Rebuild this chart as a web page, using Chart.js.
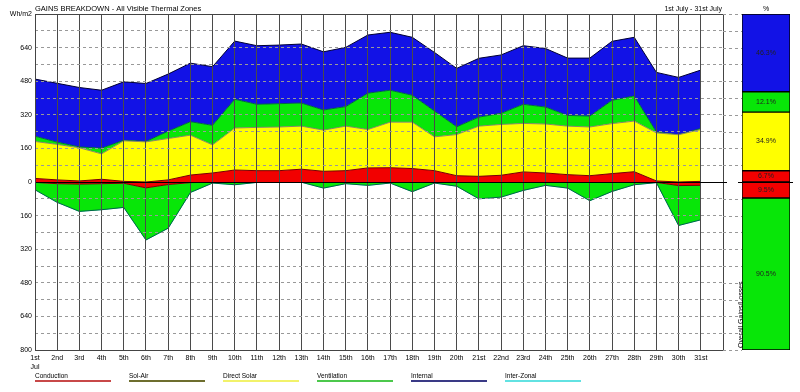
<!DOCTYPE html>
<html>
<head>
<meta charset="utf-8">
<script src="https://cdn.jsdelivr.net/npm/chart.js@4.4.0/dist/chart.umd.min.js"></script>
<style>
  html, body { margin: 0; padding: 0; background: #fff; }
  #wrap { position: relative; width: 800px; height: 392px; }
  #wrap canvas { position: absolute; left: 0; top: 0; }
</style>
</head>
<body>
<div id="wrap">
  <canvas id="main" width="800" height="392"></canvas>
  <canvas id="share" width="800" height="392"></canvas>
</div>
<script>
const dayLabels = ['1st','2nd','3rd','4th','5th','6th','7th','8th','9th','10th','11th','12th','13th','14th','15th',
  '16th','17th','18th','19th','20th','21st','22nd','23rd','24th','25th','26th','27th','28th','29th','30th','31st'];

// daily gains (Wh/m2)
const condGain  = [17,10,5,13,3,0,10,33,43,57,54,54,61,51,54,67,68,64,54,30,27,32,48,43,35,30,40,49,5,0,3];
const solarGain = [176,169,158,121,193,191,197,190,134,200,206,208,205,196,212,183,217,221,161,196,239,242,231,233,231,232,238,241,229,225,247];
const ventGain  = [25,11,4,27,3,2,35,64,93,137,110,111,110,96,93,173,152,128,123,37,43,53,91,81,51,52,111,120,4,0,5];
const intGain   = [272,280,283,276,278,276,272,279,279,277,279,279,281,277,282,277,276,276,279,278,280,278,279,279,273,276,281,279,284,273,278];
const solAir    = [0,0,0,0,0,0,0,0,0,0,0,0,0,0,0,0,0,0,0,0,0,0,0,0,0,0,0,0,0,0,0];
// daily losses (Wh/m2)
const condLoss  = [-2,-8,-10,-8,-6,-28,-12,-3,-1,0,0,0,0,0,0,0,0,0,0,0,0,0,0,0,0,0,0,0,-2,-17,-16];
const ventLoss  = [-35,-89,-130,-124,-115,-248,-208,-47,-4,-13,-2,-1,-1,-29,-8,-16,-5,-46,-5,-20,-80,-72,-40,-16,-29,-89,-45,-13,-1,-190,-164];
const interZonal = [0,0,0,0,0,0,0,0,0,0,0,0,0,0,0,0,0,0,0,0,0,0,0,0,0,0,0,0,0,0,0];

// overall share (%)
const gainShareNames = ['Conduction','Direct Solar','Ventilation','Internal'];
const gainShare = [6.7, 34.9, 12.1, 46.3];
const lossShareNames = ['Conduction','Ventilation'];
const lossShare = [-9.5, -90.5];

const legendNames  = ['Conduction','Sol-Air','Direct Solar','Ventilation','Internal','Inter-Zonal'];
const legendColors = ['#c84848','#6e6e2e','#f2f26a','#4cc84c','#3a3a86','#62e2e2'];

const RED = '#f20000', YELLOW = '#ffff00', GREEN = '#08e608', BLUE = '#1212e6';
const FONT = 'Liberation Sans, Arial, sans-serif';

function area(label, data, bg, border, stack, fill) {
  return { label, data, backgroundColor: bg, borderColor: border, borderWidth: 1,
           stack, fill, pointRadius: 0, tension: 0 };
}

const extras = {
  id: 'extras',
  afterDraw(chart) {
    const ctx = chart.ctx, a = chart.chartArea, y = chart.scales.y;
    ctx.save();
    // frame
    ctx.strokeStyle = '#444';
    ctx.lineWidth = 1;
    ctx.strokeRect(a.left + 0.5, a.top + 0.5, a.right - a.left, a.bottom - a.top);
    // gridlines running on to the share bar
    ctx.strokeStyle = '#999';
    ctx.setLineDash([3, 3]);
    for (let v = -800; v <= 800; v += 80) {
      if (v === 0) continue;
      const py = Math.round(y.getPixelForValue(v)) + 0.5;
      ctx.beginPath(); ctx.moveTo(a.right, py); ctx.lineTo(742, py); ctx.stroke();
    }
    ctx.setLineDash([]);
    ctx.strokeStyle = '#000';
    const z = Math.round(y.getPixelForValue(0)) + 0.5;
    ctx.beginPath(); ctx.moveTo(a.right, z); ctx.lineTo(727, z); ctx.stroke();
    // titles
    ctx.fillStyle = '#000';
    ctx.font = '7.5px ' + FONT;
    ctx.textBaseline = 'middle';
    ctx.textAlign = 'left';
    ctx.fillText('GAINS BREAKDOWN - All Visible Thermal Zones', 35, 9);
    ctx.font = '7px ' + FONT;
    ctx.textAlign = 'right';
    ctx.fillText('1st July - 31st July', 722, 9);
    // legend
    ctx.textAlign = 'left';
    ctx.font = '6.5px ' + FONT;
    legendNames.forEach((name, i) => {
      const x0 = 35 + i * 94;
      ctx.fillStyle = '#000';
      ctx.fillText(name, x0, 376);
      ctx.strokeStyle = legendColors[i];
      ctx.lineWidth = 2;
      ctx.beginPath(); ctx.moveTo(x0, 381); ctx.lineTo(x0 + 76, 381); ctx.stroke();
    });
    ctx.restore();
  }
};

new Chart(document.getElementById('main'), {
  type: 'line',
  data: {
    labels: dayLabels.concat(['']),
    datasets: [
      area('Conduction', condGain, RED, '#700', 'gain', 'origin'),
      area('Direct Solar', solarGain, YELLOW, '#886', 'gain', '-1'),
      area('Ventilation', ventGain, GREEN, '#064', 'gain', '-1'),
      area('Internal', intGain, BLUE, '#003', 'gain', '-1'),
      area('Sol-Air', solAir, 'rgba(0,0,0,0)', '#6e6e2e', 'loss', false),
      area('Conduction', condLoss, RED, '#700', 'loss', 'origin'),
      area('Ventilation', ventLoss, GREEN, '#064', 'loss', '-1'),
      area('Inter-Zonal', interZonal, 'rgba(0,0,0,0)', '#62e2e2', 'loss', false)
    ]
  },
  options: {
    responsive: false,
    animation: false,
    layout: { padding: { top: 14, right: 77, left: 0, bottom: 0 } },
    plugins: { legend: { display: false }, tooltip: { enabled: false } },
    scales: {
      x: {
        type: 'category',
        offset: false,
        grid: { color: '#4a4a4a', drawTicks: false, z: 1 },
        border: { display: false },
        ticks: {
          autoSkip: false, maxRotation: 0, padding: 3, color: '#000',
          font: { family: FONT, size: 7, lineHeight: 1.35 },
          callback: (v, i) => i === 0 ? [dayLabels[0], 'Jul'] : (dayLabels[i] || '')
        },
        afterFit: s => { s.height = 42; }
      },
      y: {
        stacked: true,
        min: -800, max: 800,
        grid: { color: c => c.tick && c.tick.value === 0 ? '#000' : '#999', drawTicks: false, z: 1 },
        border: { display: false, dash: c => c.tick && c.tick.value === 0 ? [] : [3, 3] },
        ticks: {
          stepSize: 80, padding: 3, color: '#000',
          font: { family: FONT, size: 7 },
          callback: v => v === 800 ? 'Wh/m2' : (v % 160 === 0 ? String(Math.abs(v)) : '')
        },
        afterFit: s => { s.width = 35; }
      }
    }
  },
  plugins: [extras]
});

const shareText = {
  id: 'shareText',
  afterDatasetsDraw(chart) {
    const ctx = chart.ctx, a = chart.chartArea, y = chart.scales.y;
    ctx.save();
    ctx.font = '7px ' + FONT;
    ctx.textAlign = 'center';
    ctx.textBaseline = 'middle';
    ctx.fillStyle = '#222';
    chart.data.datasets.forEach((ds, i) => {
      const bar = chart.getDatasetMeta(i).data[0];
      ctx.fillText(Math.abs(ds.data[0]).toFixed(1) + '%', bar.x, (bar.y + bar.base) / 2);
    });
    const z = Math.round(y.getPixelForValue(0)) + 0.5;
    ctx.strokeStyle = '#000';
    ctx.lineWidth = 1;
    ctx.beginPath(); ctx.moveTo(a.left - 4, z); ctx.lineTo(a.right + 3, z); ctx.stroke();
    ctx.fillStyle = '#000';
    ctx.font = '7px ' + FONT;
    ctx.fillText('%', (a.left + a.right) / 2, 9);
    ctx.translate(a.left - 1, a.bottom - 2);
    ctx.rotate(-Math.PI / 2);
    ctx.textAlign = 'left';
    ctx.font = '7px ' + FONT;
    ctx.fillText('Overall Gains/Losses', 0, 0);
    ctx.restore();
  }
};

const shareColors = { 'Conduction': RED, 'Direct Solar': YELLOW, 'Ventilation': GREEN, 'Internal': BLUE };
const shareSets = [];
gainShareNames.forEach((n, i) => shareSets.push({ label: n, data: [gainShare[i]], backgroundColor: shareColors[n], stack: 's' }));
lossShareNames.forEach((n, i) => shareSets.push({ label: n, data: [lossShare[i]], backgroundColor: shareColors[n], stack: 's' }));

new Chart(document.getElementById('share'), {
  type: 'bar',
  data: { labels: ['%'], datasets: shareSets },
  options: {
    responsive: false,
    animation: false,
    layout: { padding: { left: 742, right: 10, top: 14, bottom: 42 } },
    plugins: { legend: { display: false }, tooltip: { enabled: false } },
    datasets: { bar: { categoryPercentage: 1, barPercentage: 1, borderWidth: 1, borderColor: '#000', borderSkipped: false } },
    scales: {
      x: { display: false, stacked: true },
      y: { display: false, stacked: true, min: -100, max: 100 }
    }
  },
  plugins: [shareText]
});
</script>
</body>
</html>
